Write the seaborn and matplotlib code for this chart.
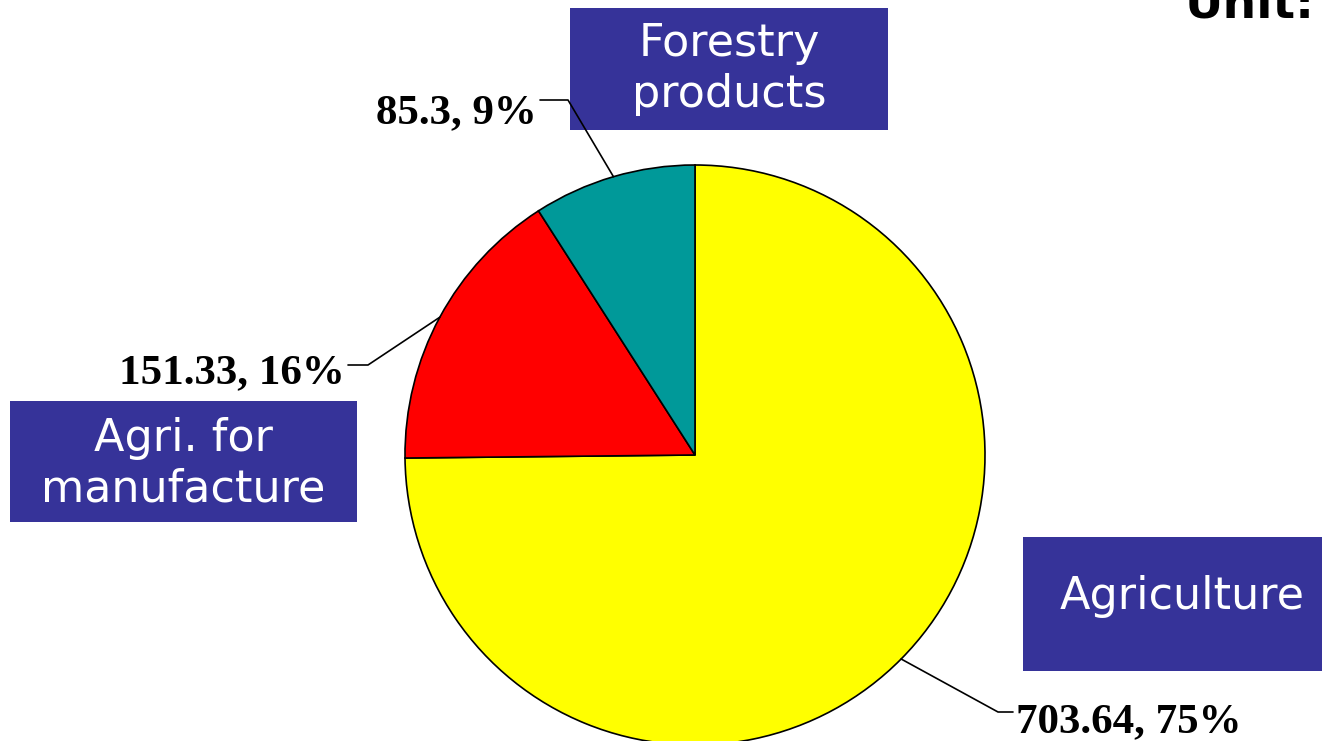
import numpy as np
import matplotlib
matplotlib.use("Agg")
import matplotlib.pyplot as plt
from matplotlib.patches import Rectangle
import seaborn as sns

# data
categories = ["Agriculture", "Agri. for\nmanufacture", "Forestry\nproducts"]
values = [703.64, 151.33, 85.3]
pct_labels = ["75%", "16%", "9%"]
val_labels = ["703.64", "151.33", "85.3"]
colors = ["#FFFF00", "#FF0000", "#009999"]

sns.set_theme(style="white")
plt.rcParams["font.family"] = ["DejaVu Sans"]

W, H = 1322, 741
fig = plt.figure(figsize=(W / 100, H / 100), dpi=100)
ax = fig.add_axes([0, 0, 1, 1])

def py(y):
    # pixel row -> data y
    return H - y

cx, cy, r = 695, py(455), 290
wedges, _ = ax.pie(values, colors=colors, startangle=90, counterclock=False,
                   center=(cx, cy), radius=r,
                   wedgeprops=dict(edgecolor="black", linewidth=1.2))

ax.set_xlim(0, W)
ax.set_ylim(0, H)
ax.set_aspect("equal")
ax.axis("off")

# data labels with leader lines: (elbow x, elbow y, text end x, text baseline y, ha)
label_pos = [
    (998, 712, 1016, 732, "left"),
    (368, 365, 345, 383, "right"),
    (568, 100, 537, 123, "right"),
]
for w, v, p, (ex, ey, tx, ty, ha) in zip(wedges, val_labels, pct_labels, label_pos):
    mid = np.deg2rad((w.theta1 + w.theta2) / 2)
    axp, ayp = cx + r * np.cos(mid), cy + r * np.sin(mid)
    hx = tx - 3 if ha == "left" else tx + 3
    ax.plot([axp, ex, hx], [ayp, py(ey), py(ey)], color="black", lw=1.2)
    ax.text(tx, py(ty), f"{v}, {p}", ha=ha, va="baseline",
            fontsize=31, fontweight="bold", family="Liberation Serif", color="black")

# category boxes: (x0, y0, x1, y1, text dx, text dy) in pixels
boxes = [
    (1023, 537, 1322, 671, 10, -7),
    (10, 401, 357, 522, 0, 2),
    (570, 8, 888, 130, 0, 0),
]
for name, (x0, y0, x1, y1, dx, dy) in zip(categories, boxes):
    ax.add_patch(Rectangle((x0, py(y1)), x1 - x0, y1 - y0, facecolor="#363399",
                           edgecolor="none"))
    ax.text((x0 + x1) / 2 + dx, py((y0 + y1) / 2 + dy), name,
            ha="center", va="center", color="white", fontsize=32,
            linespacing=1.22)

ax.text(1185, py(17), "Unit:", ha="left", va="baseline", fontsize=34,
        fontweight="bold", color="black")

fig.savefig("out.png", dpi=100)
